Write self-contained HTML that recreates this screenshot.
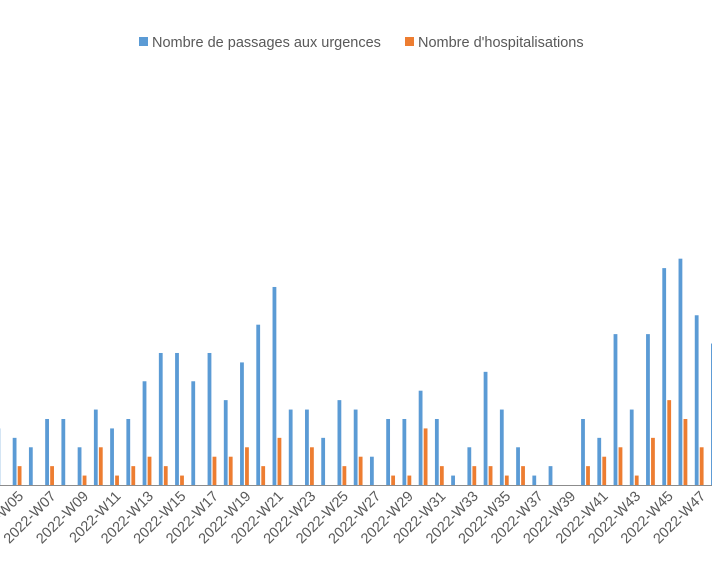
<!DOCTYPE html>
<html><head><meta charset="utf-8"><style>
body{margin:0;background:#fff;}
svg{display:block;font-family:"Liberation Sans",sans-serif;}
</style></head><body>
<svg id="chart" width="712" height="561">
<g>
<rect x="139" y="37" width="9" height="9" fill="#5b9bd5"/>
<text x="152" y="47" font-size="14.5" fill="#595959">Nombre de passages aux urgences</text>
<rect x="405" y="37" width="9" height="9" fill="#ed7d31"/>
<text x="418" y="47" font-size="14.5" fill="#595959">Nombre d'hospitalisations</text>
</g>
<g id="bars"></g>
<line x1="0" x2="712" y1="485.5" y2="485.5" stroke="#8c8c8c" stroke-width="1"/>
<g id="labels"></g>
</svg>
<script>
const weeks = [4,5,6,7,8,9,10,11,12,13,14,15,16,17,18,19,20,21,22,23,24,25,26,27,28,29,30,31,32,33,34,35,36,37,38,39,40,41,42,43,44,45,46,47,48];
const passages = [6,5,4,7,7,4,8,6,7,11,14,14,11,14,9,13,17,21,8,8,5,9,8,3,7,7,10,7,1,4,12,8,4,1,2,0,7,5,16,8,16,23,24,18,15];
const hospitalisations = [0,2,0,2,0,1,4,1,2,3,2,1,0,3,3,4,2,5,0,4,0,2,3,0,1,1,6,2,0,2,2,1,2,0,0,0,2,3,4,1,5,9,7,4,0];
const base = 485, unit = 9.43;
const xC = w => 17.2 + (w - 5) * 16.24;
const yV = v => base - v * unit;
const NS = "http://www.w3.org/2000/svg";
const bars = document.getElementById("bars");
const labels = document.getElementById("labels");
weeks.forEach((w, i) => {
  const c = xC(w);
  const b = document.createElementNS(NS, "rect");
  b.setAttribute("x", c - 4.5); b.setAttribute("width", 3.8);
  b.setAttribute("y", yV(passages[i])); b.setAttribute("height", base - yV(passages[i]));
  b.setAttribute("fill", "#5b9bd5");
  
  
  bars.appendChild(b);
  const o = document.createElementNS(NS, "rect");
  o.setAttribute("x", c + 0.5); o.setAttribute("width", 3.8);
  o.setAttribute("y", yV(hospitalisations[i])); o.setAttribute("height", base - yV(hospitalisations[i]));
  o.setAttribute("fill", "#ed7d31");
  
  
  bars.appendChild(o);
  if (w % 2 === 1) {
    const t = document.createElementNS(NS, "text");
    const lx = c + 7, ly = 497;
    t.setAttribute("x", lx); t.setAttribute("y", ly);
    t.setAttribute("text-anchor", "end");
    t.setAttribute("font-size", "14.5");
    t.setAttribute("fill", "#595959");
    t.setAttribute("transform", "rotate(-45 " + lx + " " + ly + ")");
    t.textContent = "2022-W" + String(w).padStart(2, "0");
    
    
    labels.appendChild(t);
  }
});
</script>
</body></html>
